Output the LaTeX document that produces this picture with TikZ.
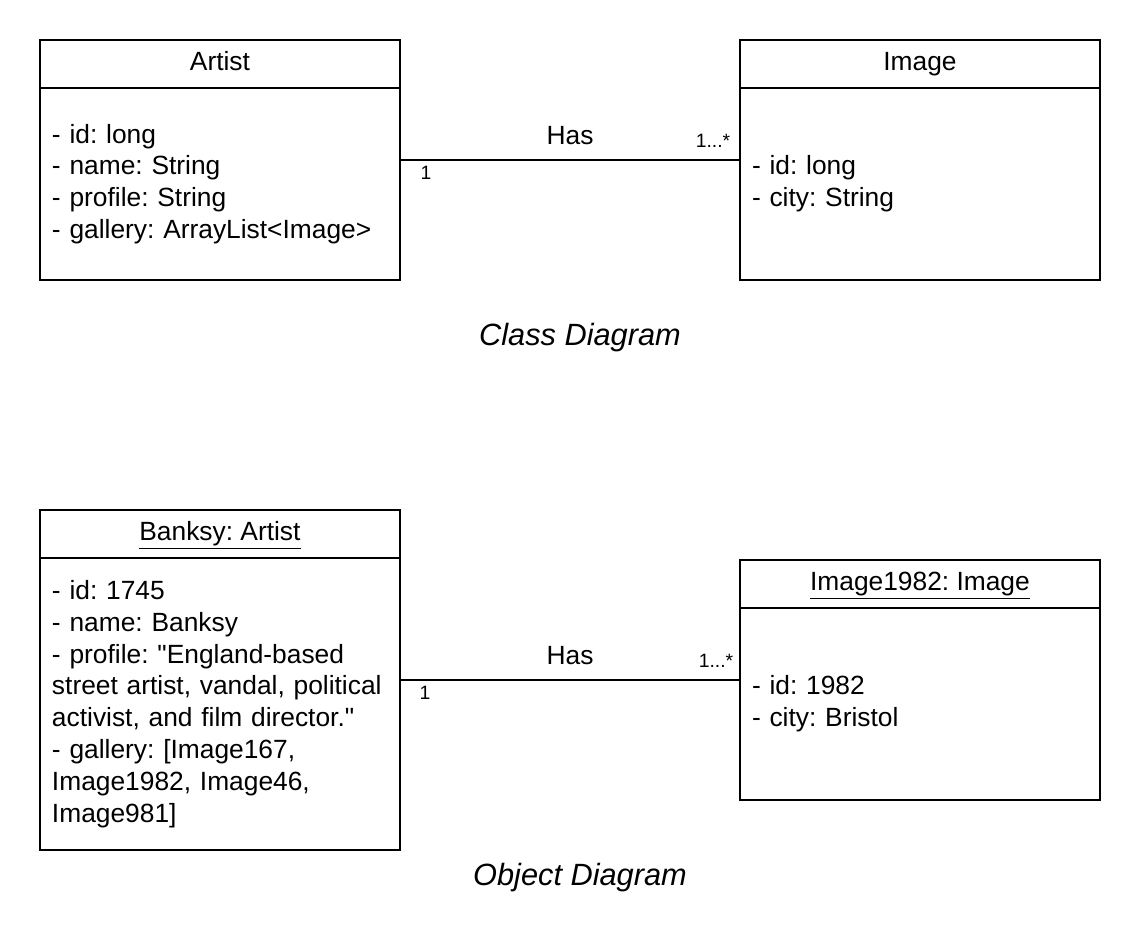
\documentclass[tikz,border=0pt]{standalone}
\usepackage{fontspec}
\setmainfont{Liberation Sans}
\frenchspacing
\usetikzlibrary{positioning, calc}
\tikzset{
  classhead/.style={
    draw, line width=1pt, outer sep=0pt,
    minimum width=7.2cm, minimum height=0.96cm,
    text height=10.5pt, text depth=3.5pt,
    inner sep=0pt, font=\fontsize{15pt}{18pt}\selectfont
  },
  classbody/.style={
    draw, line width=1pt, outer sep=0pt,
    minimum width=7.2cm, text width=6.72cm,
    inner xsep=0.24cm, inner ysep=0pt, align=left,
    font=\fontsize{15pt}{18.1pt}\selectfont
  },
  assoc/.style={line width=1pt},
  mult/.style={font=\fontsize{11pt}{13pt}\selectfont, inner sep=0pt},
  rolename/.style={font=\fontsize{15pt}{18pt}\selectfont, inner sep=0pt},
  diagcaption/.style={font=\fontsize{17.5pt}{21pt}\selectfont\itshape},
}

\begin{document}
\begin{tikzpicture}[x=0.02cm, y=-0.02cm]
  \useasboundingbox (0,0) rectangle (1140,950);

  % class diagram
  \node[classhead, anchor=north west] (arth) at (40,40) {Artist};
  \node[classbody, minimum height=3.84cm, below=0pt of arth] (artb) {%
    - id: long\\
    - name: String\\
    - profile: String\\
    - gallery: ArrayList<Image>\\[4.5pt]};

  \node[classhead, anchor=north west] (imgh) at (740,40) {Image};
  \node[classbody, minimum height=3.84cm, below=0pt of imgh] (imgb) {%
    - id: long\\
    - city: String\\[4.5pt]};

  \coordinate (c1) at ($(imgb.north west)!0.375!(imgb.south west)$);
  \draw[assoc] (artb.east |- c1) -- (c1);
  \node[rolename] (has1) at (570,136) {Has};
  \node[mult] (m1a) at (426,173) {1};
  \node[mult] (m1b) at (713,141) {1...*};

  \node[diagcaption] (cap1) at (580,338) {Class Diagram};

  % object diagram
  \node[classhead, anchor=north west] (bnkh) at (40,510) {\underline{Banksy: Artist}};
  \node[classbody, minimum height=5.84cm, below=0pt of bnkh] (bnkb) {%
    - id: 1745\\
    - name: Banksy\\
    - profile: \textquotedbl England-based\\
    street artist, vandal, political\\
    activist, and film director.\textquotedbl\\
    - gallery: [Image167,\\
    Image1982, Image46,\\
    Image981]\\[4.5pt]};

  \node[classhead, anchor=north west] (imoh) at (740,560) {\underline{Image1982: Image}};
  \node[classbody, minimum height=3.84cm, below=0pt of imoh] (imob) {%
    - id: 1982\\
    - city: Bristol\\[4.5pt]};

  \coordinate (c2) at ($(imob.north west)!0.375!(imob.south west)$);
  \draw[assoc] (bnkb.east |- c2) -- (c2);
  \node[rolename] (has2) at (570,656) {Has};
  \node[mult] (m2a) at (425,693) {1};
  \node[mult] (m2b) at (716,661) {1...*};

  \node[diagcaption] (cap2) at (580,878) {Object Diagram};
\end{tikzpicture}
\end{document}
